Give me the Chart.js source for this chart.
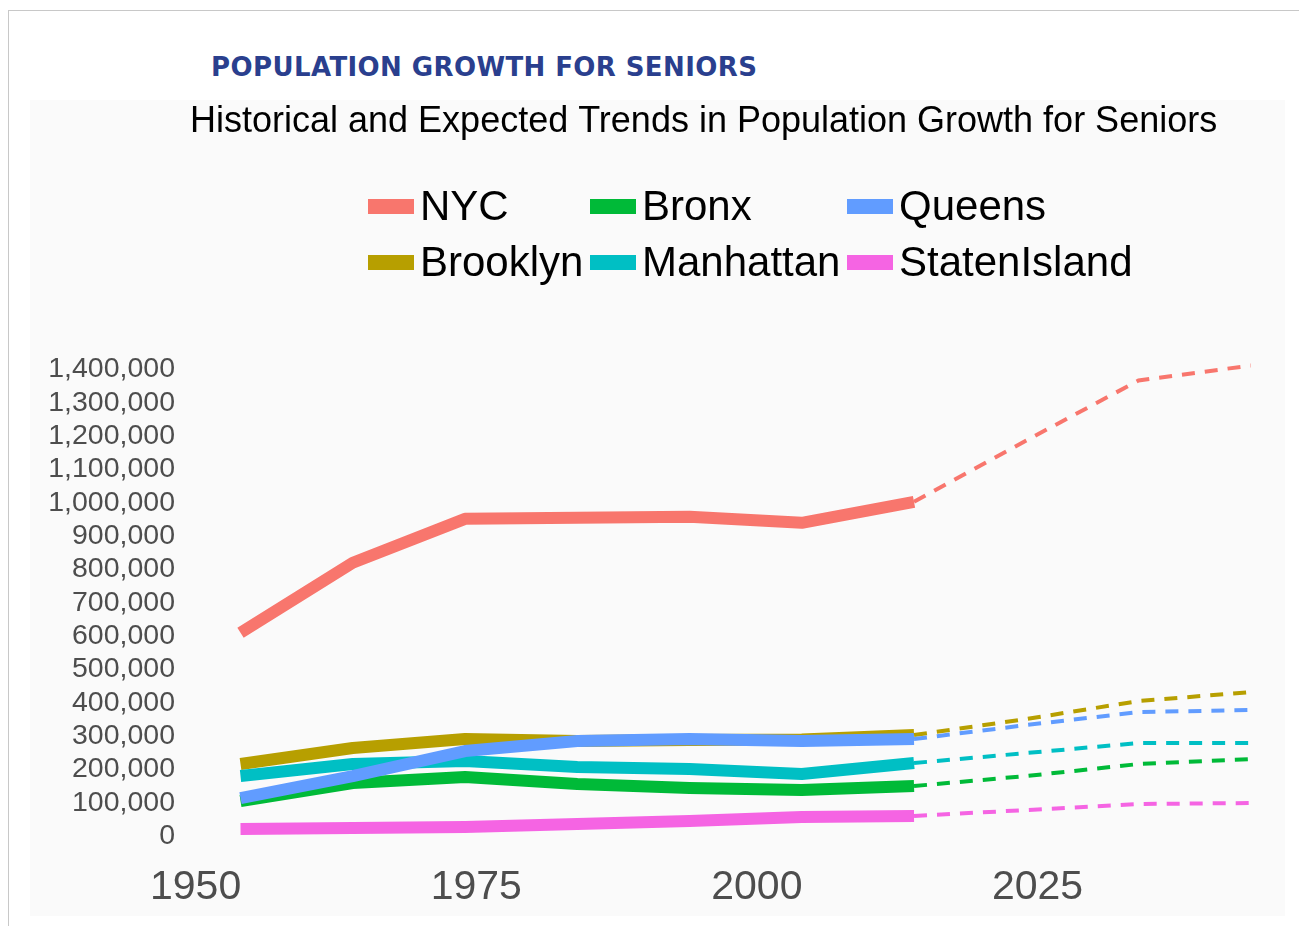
<!DOCTYPE html>
<html>
<head>
<meta charset="utf-8">
<script src="https://cdn.jsdelivr.net/npm/chart.js@4.4.1/dist/chart.umd.min.js"></script>
<style>
  body { margin: 0; background: #fff; width: 1299px; height: 926px; overflow: hidden; position: relative; font-family: "Liberation Sans", Arial, sans-serif; }
  #frame { position: absolute; left: 8px; top: 10px; width: 1400px; height: 1000px; border: 1px solid #c8c8c8; }
  #heading { position: absolute; left: 211px; top: 52px; font-family: "DejaVu Sans", sans-serif; font-weight: bold; font-size: 26px; color: #2a3f8e; letter-spacing: 0.4px; white-space: nowrap; }
  #panel { position: absolute; left: 30px; top: 100px; width: 1255px; height: 816px; background: #fafafa; }
  #legend { position: absolute; left: 0; top: 0; }
  .item { position: absolute; display: flex; align-items: center; font-size: 42px; color: #000; white-space: nowrap; height: 50px; }
  .swatch { width: 46px; height: 15px; margin-right: 6px; }
</style>
</head>
<body>
<div id="frame"></div>
<div id="heading">POPULATION GROWTH FOR SENIORS</div>
<div id="panel">
  <canvas id="seniorsChart" width="1255" height="816"></canvas>
</div>
<div id="legend"></div>
<script>
// decennial points, the last three are projections
const years = [1954, 1964, 1974, 1984, 1994, 2004, 2014, 2024, 2034, 2044];
const lastActual = 6;

const nyc = [610000, 820000, 952000, 955000, 958000, 940000, 1003000, 1187000, 1367000, 1412000];
const brooklyn = [216000, 264000, 291000, 285000, 288000, 290000, 303000, 351000, 405000, 432000];
const bronx = [105000, 159000, 177000, 156000, 144000, 138000, 150000, 180000, 216000, 231000];
const manhattan = [180000, 216000, 225000, 207000, 201000, 186000, 219000, 249000, 279000, 279000];
const queens = [114000, 180000, 255000, 285000, 291000, 285000, 291000, 333000, 372000, 378000];
const statenIsland = [21000, 24000, 27000, 36000, 45000, 57000, 60000, 78000, 96000, 99000];

const xTicks = [1950, 1975, 2000, 2025];
const yTicks = [0, 100000, 200000, 300000, 400000, 500000, 600000, 700000, 800000, 900000, 1000000, 1100000, 1200000, 1300000, 1400000];

const series = [
    { name: "NYC", values: nyc, color: "#F8766D" },
    { name: "Brooklyn", values: brooklyn, color: "#B79F00" },
    { name: "Bronx", values: bronx, color: "#00BA38" },
    { name: "Manhattan", values: manhattan, color: "#00BFC4" },
    { name: "Queens", values: queens, color: "#619CFF" },
    { name: "StatenIsland", values: statenIsland, color: "#F564E3" }
];

function points(values, from, to) {
    let out = [];
    for (let i = from; i <= to; i++) out.push({ x: years[i], y: values[i] });
    return out;
}

let datasets = [];
series.forEach(function (s, i) {
    datasets.push({
        label: s.name,
        data: points(s.values, 0, lastActual),
        borderColor: s.color,
        borderWidth: 12,
        borderCapStyle: "butt",
        borderJoinStyle: "round",
        pointRadius: 0,
        tension: 0,
        order: 20 - i
    });
    datasets.push({
        label: s.name + " (projected)",
        data: points(s.values, lastActual, years.length - 1),
        borderColor: s.color,
        borderWidth: 4,
        borderDash: [13, 10],
        borderCapStyle: "butt",
        pointRadius: 0,
        tension: 0,
        order: 10 - i
    });
});

new Chart(document.getElementById("seniorsChart").getContext("2d"), {
    type: "line",
    data: { datasets: datasets },
    options: {
        responsive: false,
        animation: false,
        devicePixelRatio: 1,
        layout: { padding: { left: 0, right: 23, top: 0, bottom: 0 } },
        plugins: {
            legend: { display: false },
            tooltip: { enabled: false },
            title: {
                display: true,
                text: "Historical and Expected Trends in Population Growth for Seniors",
                align: "start",
                fullSize: false,
                color: "#000",
                font: { family: "'Liberation Sans', Arial, sans-serif", size: 36, weight: "normal" },
                padding: { top: 0, bottom: 199 }
            }
        },
        scales: {
            x: {
                type: "linear",
                min: 1949.5,
                max: 2045,
                grid: { display: false, drawTicks: false },
                border: { display: false },
                afterBuildTicks: function (scale) { scale.ticks = xTicks.map(v => ({ value: v })); },
                afterFit: function (scale) { scale.height = 64; },
                ticks: {
                    color: "#4d4d4d",
                    padding: 11,
                    maxRotation: 0,
                    autoSkip: false,
                    font: { family: "'Liberation Sans', Arial, sans-serif", size: 41 },
                    callback: function (v) { return String(v); }
                }
            },
            y: {
                min: -48000,
                max: 1482000,
                grid: { display: false, drawTicks: false },
                border: { display: false },
                afterBuildTicks: function (scale) { scale.ticks = yTicks.map(v => ({ value: v })); },
                afterFit: function (scale) { scale.width = 160; },
                ticks: {
                    color: "#4d4d4d",
                    padding: 15,
                    autoSkip: false,
                    font: { family: "'Liberation Sans', Arial, sans-serif", size: 28.5 },
                    callback: function (v) { return v.toLocaleString("en-US"); }
                }
            }
        }
    }
});

// legend, three columns by two rows
const legendPos = [[368, 181], [368, 237], [590, 181], [590, 237], [847, 181], [847, 237]];
let legend = document.getElementById("legend");
series.forEach(function (s, i) {
    let item = document.createElement("div");
    item.className = "item";
    item.style.left = legendPos[i][0] + "px";
    item.style.top = legendPos[i][1] + "px";
    item.innerHTML = '<span class="swatch" style="background:' + s.color + '"></span>' + s.name;
    legend.appendChild(item);
});
</script>
</body>
</html>
